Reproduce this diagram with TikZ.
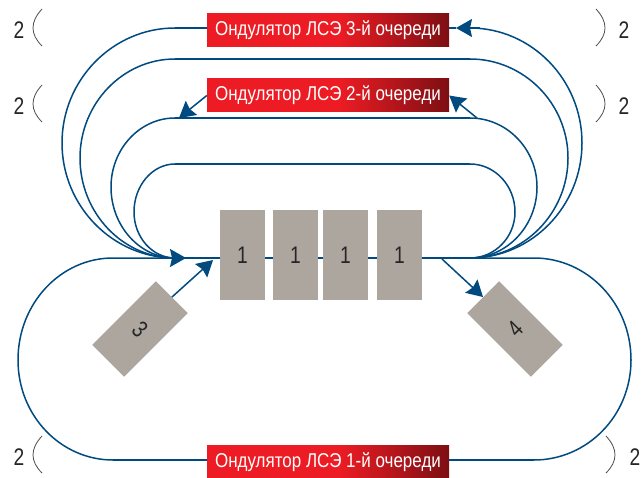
\documentclass[tikz,border=0pt]{standalone}
\usepackage{fontspec}
\setmainfont{Liberation Sans}
\usepackage{tikz}
\usetikzlibrary{arrows.meta}

\definecolor{beamblue}{HTML}{004A80}
\definecolor{boxgray}{HTML}{ACA69F}
\definecolor{undred}{HTML}{ED1C24}
\definecolor{unddark}{HTML}{7D0F13}
\pgfdeclarehorizontalshading{undshade}{100bp}{color(0bp)=(undred); color(52bp)=(undred); color(75bp)=(unddark); color(100bp)=(unddark)}

\tikzset{
	beam/.style={color=beamblue, line width=1.5pt},
	tip/.style={-{Stealth[length=16pt,width=18pt,inset=2pt]}},
	und/.style={shading=undshade, minimum width=242pt, minimum height=33pt, inner sep=0pt, text=white, font=\fontsize{20}{20}\selectfont},
	block/.style={fill=boxgray, minimum width=45pt, minimum height=90pt, inner sep=0pt, text=black!85, font=\fontsize{24}{24}\selectfont},
	numlabel/.style={text=black!85, inner sep=0pt, font=\fontsize{24}{24}\selectfont},
	brace/.style={color=black!70, line width=0.8pt}
}
\newcommand{\undname}[1]{\scalebox{0.85}[1]{Ондулятор ЛСЭ #1-й очереди}}
\newcommand{\thindigit}[1]{\scalebox{0.8}[1]{#1}}

\begin{document}
\begin{tikzpicture}[x=1pt,y=-1pt]
\useasboundingbox (0,0) rectangle (644,478);

\coordinate (jl) at (175,258);
\coordinate (jr) at (470,258);

% upper loops
\foreach \y/\xl/\xr/\ym in {28/62/582/143,59/80/568/158,118/111/537/187,164/134/515/212}{
	\draw[beam] (175,\y) .. controls ({175-.55*(175-\xl)},\y) and (\xl,{\ym-.55*(\ym-\y)}) .. (\xl,\ym)
		.. controls (\xl,{\ym+.55*(258-\ym)}) and ({175-.55*(175-\xl)},258) .. (jl);
	\draw[beam] (470,\y) .. controls ({470+.55*(\xr-470)},\y) and (\xr,{\ym-.55*(\ym-\y)}) .. (\xr,\ym)
		.. controls (\xr,{\ym+.55*(258-\ym)}) and ({470+.55*(\xr-470)},258) .. (jr);
}
\draw[beam] (175,59)--(470,59);
\draw[beam] (175,118)--(470,118);
\draw[beam] (175,164)--(470,164);

% lower loop
\draw[beam] (jl)--(113,258) .. controls (61,258) and (18,303) .. (18,360)
	.. controls (18,416) and (61,460) .. (113,460);
\draw[beam] (jr)--(534,258) .. controls (587,258) and (631,303) .. (631,360)
	.. controls (631,416) and (587,460) .. (534,460);

\draw[beam, line width=2.2pt] (jl)--(jr);
\coordinate (jltip) at (186,258);
\draw[beam, tip] (jl)--(jltip);

\node[und] (und3) at (328,30.5) {\undname{3}};
\node[und] (und2) at (328,95.5) {\undname{2}};
\node[und] (und1) at (328,462) {\undname{1}};

\coordinate (u3tip) at (456,28);
\draw[beam] (und3.west |- u3tip)--(175,28);
\draw[beam] (und3.east |- u3tip)--(u3tip);
\draw[beam, tip] (480,28)--(u3tip);
\draw[beam] (und1.west |- 0,460)--(113,460);
\draw[beam] (und1.east |- 0,460)--(534,460);

\coordinate (u2left) at (179,118);
\coordinate (u2right) at (477,118);
\draw[beam, tip] (und2.west)--(u2left);
\draw[beam, tip] (u2right)--(und2.east);

\node[block] (block1) at (242.5,255) {\thindigit{1}};
\node[block] (block2) at (295.5,255) {\thindigit{1}};
\node[block] (block3) at (345.5,255) {\thindigit{1}};
\node[block] (block4) at (399.5,255) {\thindigit{1}};

\node[block, rotate=-45] (block5) at (140,329) {\thindigit{3}};
\node[block, rotate=45] (block6) at (515,329) {\thindigit{4}};

\coordinate (inject) at (213,260);
\coordinate (extract) at (442,259);
\draw[beam, tip] (block5.north)--(inject);
\draw[beam, tip] (extract)--(block6.north);

% side labels
\foreach \n/\x/\y in {a/19/30,b/19/106,c/19/457,d/624/30,e/624/106,f/635/457}{
	\node[numlabel] (num\n) at (\x,\y) {\thindigit{2}};
}
\foreach \y in {9,85,436}{
	\draw[brace] (42,\y) .. controls (30,{\y+13}) and (30,{\y+25}) .. (42,{\y+37});
}
\foreach \x/\y in {596/9,596/85,606/436}{
	\draw[brace] (\x,\y) .. controls ({\x+12},{\y+13}) and ({\x+12},{\y+25}) .. (\x,{\y+37});
}

\end{tikzpicture}
\end{document}
